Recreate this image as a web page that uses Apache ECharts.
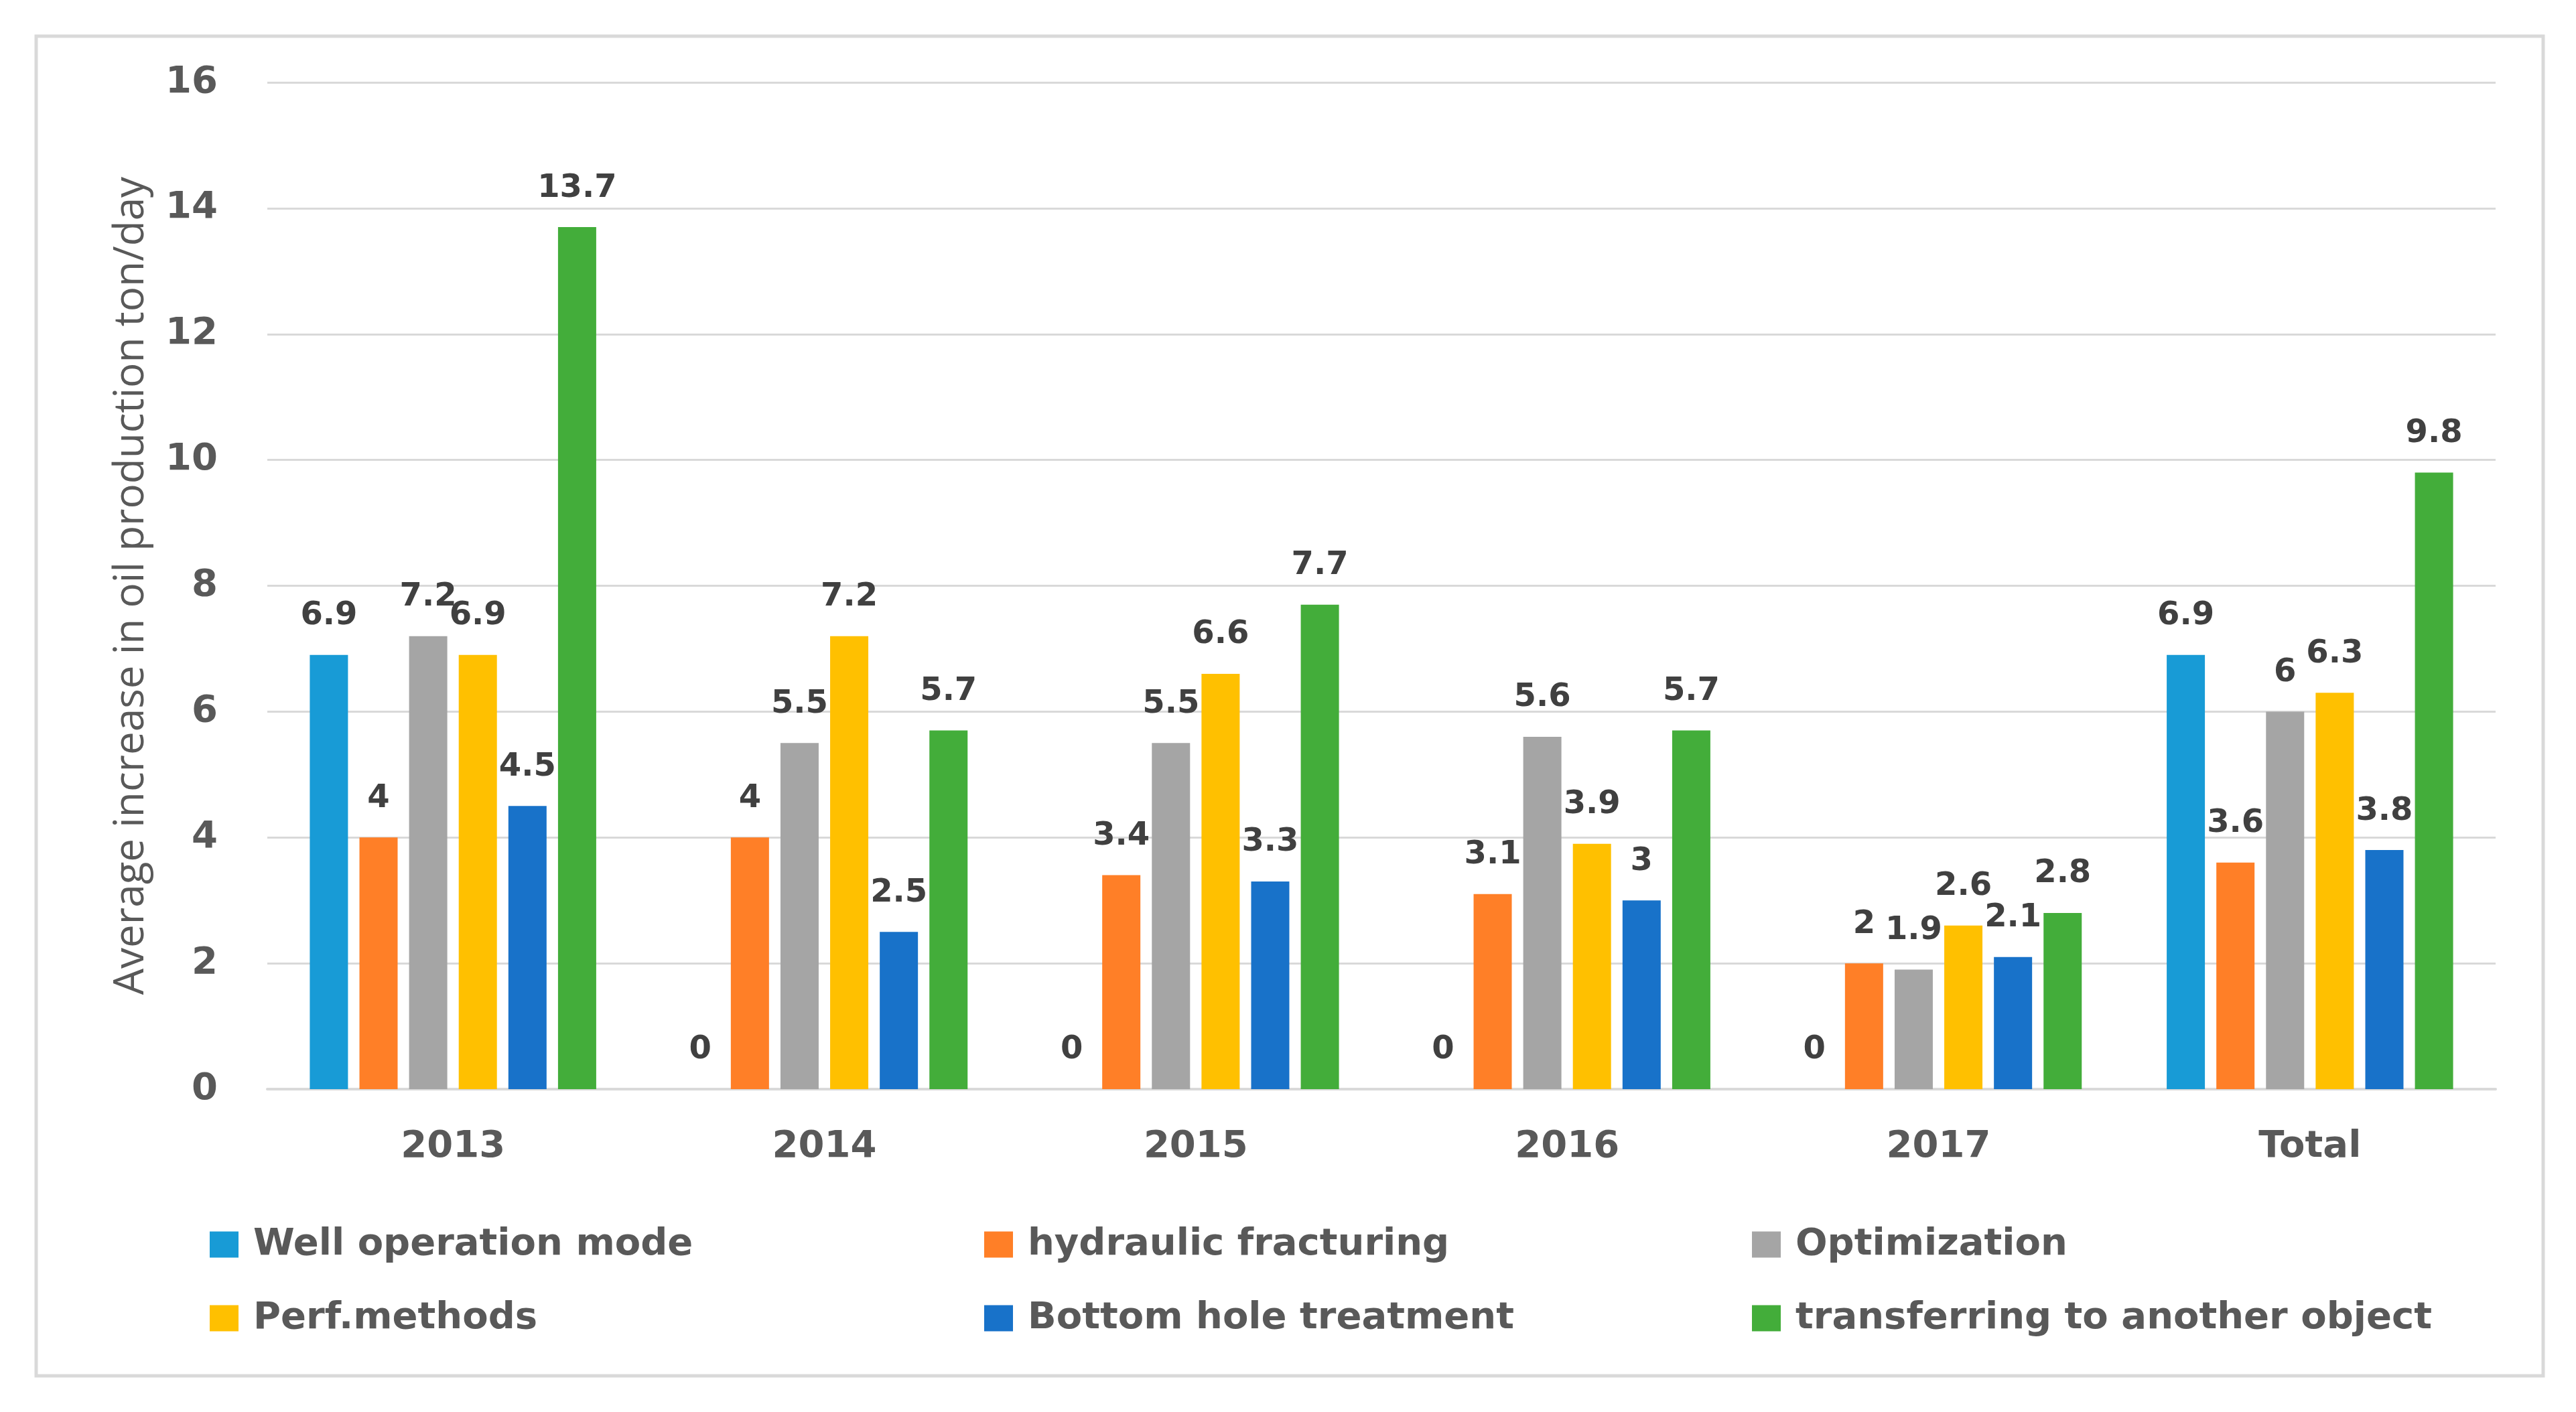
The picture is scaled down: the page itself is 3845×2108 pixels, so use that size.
<!DOCTYPE html>
<html>
<head>
<meta charset="utf-8">
<script src="https://cdn.jsdelivr.net/npm/echarts@6/dist/echarts.min.js"></script>
<style>
html,body{margin:0;padding:0;background:#fff;}
#chart{width:3845px;height:2108px;}
</style>
</head>
<body>
<div id="chart"></div>
<script>
var categories = ['2013', '2014', '2015', '2016', '2017', 'Total'];
var seriesNames = ['Well operation mode', 'hydraulic fracturing', 'Optimization', 'Perf.methods', 'Bottom hole treatment', 'transferring to another object'];
var wellOperation = [6.9, 0, 0, 0, 0, 6.9];
var hydraulicFracturing = [4, 4, 3.4, 3.1, 2, 3.6];
var optimization = [7.2, 5.5, 5.5, 5.6, 1.9, 6];
var perfMethods = [6.9, 7.2, 6.6, 3.9, 2.6, 6.3];
var bottomHole = [4.5, 2.5, 3.3, 3, 2.1, 3.8];
var transferring = [13.7, 5.7, 7.7, 5.7, 2.8, 9.8];
var yTicks = [0, 2, 4, 6, 8, 10, 12, 14, 16];
var colors = ['#189BD6', '#FF7F27', '#A5A5A5', '#FFC000', '#1872C9', '#43AD3A'];

var values = [wellOperation, hydraulicFracturing, optimization, perfMethods, bottomHole, transferring];

var chart = echarts.init(document.getElementById('chart'));

var series = values.map(function (v, i) {
  return {
    name: seriesNames[i],
    type: 'bar',
    data: v,
    barWidth: 57,
    barGap: '30%',
    itemStyle: { color: colors[i] },
    label: {
      show: true,
      position: 'top',
      distance: 34,
      fontFamily: 'DejaVu Sans',
      fontWeight: 'bold',
      fontSize: 48,
      color: '#404040'
    }
  };
});

var legendPos = [
  [308, 1853], [1464, 1853], [2610, 1853],
  [308, 1963], [1464, 1963], [2610, 1963]
];
var legends = seriesNames.map(function (nm, k) {
  return {
    data: [nm],
    left: legendPos[k][0],
    top: legendPos[k][1] - 29,
    itemWidth: 43,
    itemHeight: 39,
    icon: 'rect',
    selectedMode: false,
    textStyle: {
      fontFamily: 'DejaVu Sans',
      fontWeight: 'bold',
      fontSize: 56,
      lineHeight: 58,
      color: '#595959',
      padding: [0, 0, 0, 17]
    }
  };
});

chart.setOption({
  animation: false,
  backgroundColor: '#ffffff',
  color: colors,
  graphic: [{
    type: 'rect',
    shape: { x: 54, y: 54, width: 3742, height: 2000 },
    style: { fill: 'none', stroke: '#D9D9D9', lineWidth: 5 },
    silent: true,
    z: -1
  }],
  grid: { left: 399, right: 120, top: 123, bottom: 482, containLabel: false },
  legend: legends,
  xAxis: {
    type: 'category',
    data: categories,
    axisTick: { show: false },
    axisLine: { show: true, lineStyle: { color: '#D9D9D9', width: 4 } },
    axisLabel: {
      margin: 58,
      fontFamily: 'DejaVu Sans',
      fontWeight: 'bold',
      fontSize: 56,
      color: '#595959'
    }
  },
  yAxis: {
    type: 'value',
    min: yTicks[0],
    max: yTicks[yTicks.length - 1],
    interval: 2,
    name: 'Average increase in oil production ton/day',
    nameLocation: 'middle',
    nameRotate: 90,
    nameGap: 172,
    nameTextStyle: {
      fontFamily: 'Open Sans',
      fontSize: 62,
      color: '#595959'
    },
    axisLine: { show: false },
    axisTick: { show: false },
    splitLine: { lineStyle: { color: '#D9D9D9', width: 3 } },
    axisLabel: {
      margin: 74,
      fontFamily: 'DejaVu Sans',
      fontWeight: 'bold',
      fontSize: 56,
      color: '#595959'
    }
  },
  series: series
});
</script>
</body>
</html>
